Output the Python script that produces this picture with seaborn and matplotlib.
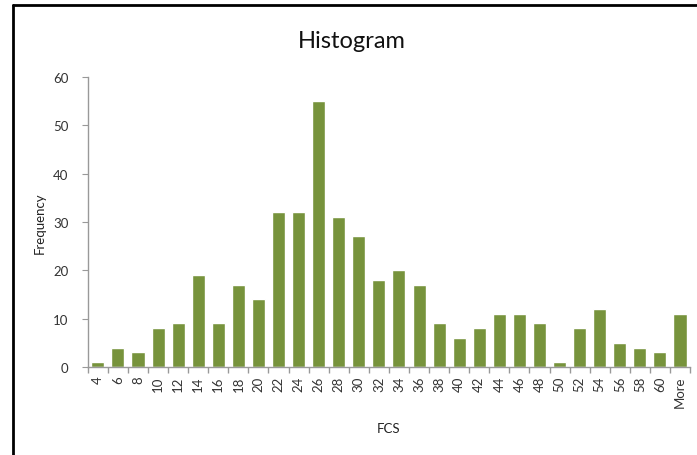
import matplotlib
matplotlib.use("Agg")
import matplotlib.pyplot as plt
import seaborn as sns
import pandas as pd
import numpy as np
from matplotlib.lines import Line2D

bins = [str(v) for v in range(4, 61, 2)] + ["More"]
freq = [1, 4, 3, 8, 9, 19, 9, 17, 14, 32, 32, 55, 31, 27, 18, 20, 17, 9, 6, 8,
        11, 11, 9, 1, 8, 12, 5, 4, 3, 11]

df = pd.DataFrame({"FCS": bins, "Frequency": freq})

sns.set_style("white")
plt.rcParams['font.family'] = ['Lato', 'DejaVu Sans']

fig = plt.figure(figsize=(6.97, 4.56), dpi=100)
ax = fig.add_axes([0.126, 0.193, 0.864, 0.636])
sns.barplot(data=df, x="FCS", y="Frequency", color="#77933C", width=0.65,
            saturation=1, ax=ax)

ax.set_ylim(0, 60)
ax.set_yticks(range(0, 61, 10))
ax.set_xlim(-0.5, len(bins) - 0.5)
ax.set_xticks(range(len(bins)))
ax.set_xticklabels(bins, rotation=90)
ax.set_xticks(np.arange(-0.5, len(bins), 1), minor=True)
ax.tick_params(axis='x', which='major', length=0, labelsize=9.5, pad=6, colors='#333333')
ax.tick_params(axis='x', which='minor', length=4, color='#999999', width=1, bottom=True)
ax.tick_params(axis='y', length=4, color='#999999', labelsize=9.5, left=True)
for lbl in ax.get_yticklabels():
    lbl.set_color('#333333')
ax.yaxis.set_tick_params(pad=10)

for s in ['top', 'right']:
    ax.spines[s].set_visible(False)
for s in ['left', 'bottom']:
    ax.spines[s].set_color('#999999')
    ax.spines[s].set_linewidth(1)

ax.set_xlabel("FCS", fontsize=9.5, color='#222222', labelpad=11)
ax.set_ylabel("Frequency", fontsize=9.5, color='#222222', labelpad=5)
fig.text(0.505, 0.91, "Histogram", ha='center', va='center', fontsize=17, color='#111111')

fig.add_artist(Line2D([13/697, 13/697], [0, 1 - 6/456], color='black', lw=2, transform=fig.transFigure))
fig.add_artist(Line2D([13/697, 1], [1 - 6/456, 1 - 6/456], color='black', lw=2, transform=fig.transFigure))

fig.savefig("out.png", dpi=100)
